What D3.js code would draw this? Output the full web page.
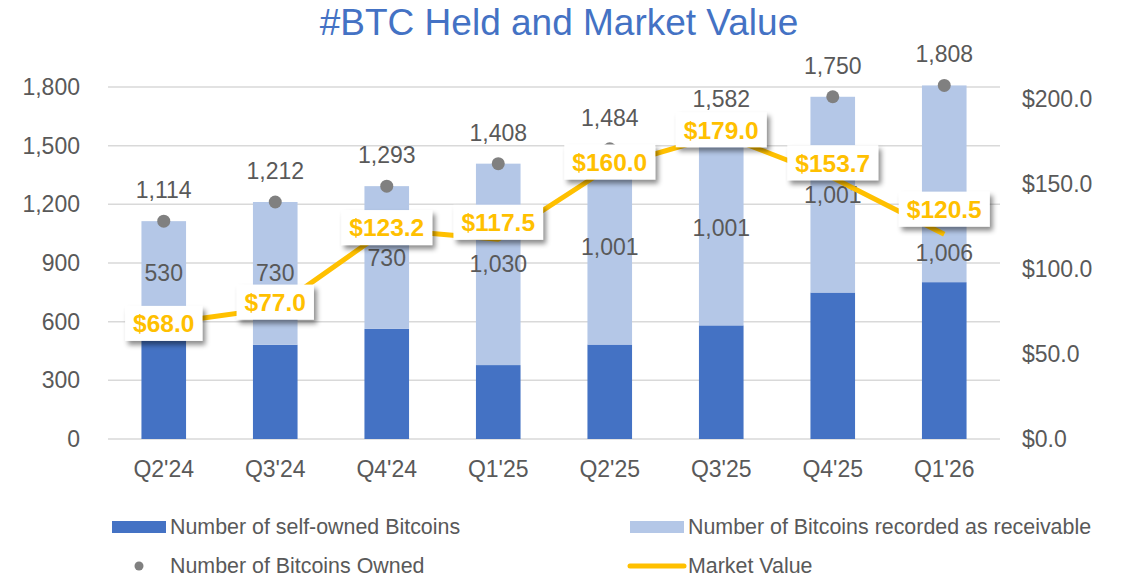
<!DOCTYPE html>
<html>
<head>
<meta charset="utf-8">
<script src="https://cdn.jsdelivr.net/npm/d3@7"></script>
<style>
  html, body { margin: 0; padding: 0; background: #fff; }
  svg { display: block; font-family: "Liberation Sans", Arial, sans-serif; }
</style>
</head>
<body>
<svg id="chart" width="1125" height="579"></svg>
<script>
// ---- data ----
const categories = ["Q2'24", "Q3'24", "Q4'24", "Q1'25", "Q2'25", "Q3'25", "Q4'25", "Q1'26"];
const selfOwned = [584, 482, 563, 378, 483, 581, 749, 802];
const receivable = [530, 730, 730, 1030, 1001, 1001, 1001, 1006];
const totalOwned = [1114, 1212, 1293, 1408, 1484, 1582, 1750, 1808];
const marketValue = [68.0, 77.0, 123.2, 117.5, 160.0, 179.0, 153.7, 120.5];
const leftTicks = [0, 300, 600, 900, 1200, 1500, 1800];
const rightTicks = [0, 50, 100, 150, 200];
// label placement tweaks (vertical shifts, px)
const mvLabelShift = [0, -6, -2, -17, -5, -5, -15, -25];
const recvLabelShift = [0, 0, 0, 0, 0, 0, 0, 69];

// ---- layout ----
const svg = d3.select("#chart");
const plot = { left: 108, right: 1000, top: 87, bottom: 439 };
const grey = "#595959";
const FONT = "Liberation Sans, Arial, sans-serif";

const x = d3.scaleBand().domain(categories).range([plot.left, plot.right]).paddingInner(0.6).paddingOuter(0.3);
const yL = d3.scaleLinear().domain([0, 1800]).range([plot.bottom, plot.top]);
const yR = d3.scaleLinear().domain([0, 200]).range([plot.bottom, plot.bottom - 340]);

const defs = svg.append("defs");
const f = defs.append("filter").attr("id", "shadow").attr("x", "-20%").attr("y", "-30%").attr("width", "150%").attr("height", "180%");
f.append("feDropShadow").attr("dx", 3).attr("dy", 4).attr("stdDeviation", 2.5).attr("flood-color", "#000").attr("flood-opacity", 0.45);

// title
svg.append("text").attr("x", 559).attr("y", 35).attr("text-anchor", "middle")
  .attr("font-size", 37).attr("fill", "#4472C4").text("#BTC Held and Market Value");

// gridlines
svg.append("g").selectAll("line").data(leftTicks).join("line")
  .attr("x1", plot.left).attr("x2", plot.right)
  .attr("y1", d => yL(d)).attr("y2", d => yL(d))
  .attr("stroke", "#D9D9D9").attr("stroke-width", 1.5);

// left axis
const axL = svg.append("g").attr("transform", `translate(${plot.left - 25},0)`)
  .call(d3.axisLeft(yL).tickValues(leftTicks).tickFormat(d3.format(",")).tickSize(0));
axL.select(".domain").remove();
axL.selectAll("text").attr("font-size", 23).attr("fill", grey).attr("font-family", FONT);

// right axis
const axR = svg.append("g").attr("transform", `translate(${plot.right + 19},0)`)
  .call(d3.axisRight(yR).tickValues(rightTicks).tickFormat(d => "$" + d3.format(".1f")(d)).tickSize(0));
axR.select(".domain").remove();
axR.selectAll("text").attr("font-size", 23).attr("fill", grey).attr("font-family", FONT);

// x axis
const axX = svg.append("g").attr("transform", `translate(0,${plot.bottom + 19})`)
  .call(d3.axisBottom(x).tickSize(0));
axX.select(".domain").remove();
axX.selectAll("text").attr("font-size", 23).attr("fill", grey).attr("font-family", FONT);

// bars
const rows = categories.map((c, i) => ({ c, s: selfOwned[i], r: receivable[i], t: totalOwned[i], mv: marketValue[i], shift: mvLabelShift[i], rshift: recvLabelShift[i] }));
const gBars = svg.append("g");
gBars.selectAll(".self").data(rows).join("rect")
  .attr("x", d => x(d.c)).attr("width", x.bandwidth())
  .attr("y", d => yL(d.s)).attr("height", d => yL(0) - yL(d.s))
  .attr("fill", "#4472C4");
gBars.selectAll(".recv").data(rows).join("rect")
  .attr("x", d => x(d.c)).attr("width", x.bandwidth())
  .attr("y", d => yL(d.s + d.r)).attr("height", d => yL(d.s) - yL(d.s + d.r))
  .attr("fill", "#B4C7E7");

// receivable labels
svg.append("g").selectAll("text").data(rows).join("text")
  .attr("x", d => x(d.c) + x.bandwidth() / 2)
  .attr("y", d => (yL(d.s) + yL(d.s + d.r)) / 2 + d.rshift)
  .attr("dy", "0.35em").attr("text-anchor", "middle")
  .attr("font-size", 23).attr("fill", grey)
  .text(d => d3.format(",")(d.r));

// total dots
svg.append("g").selectAll("circle").data(rows).join("circle")
  .attr("cx", d => x(d.c) + x.bandwidth() / 2).attr("cy", d => yL(d.t))
  .attr("r", 6.5).attr("fill", "#808080");
svg.append("g").selectAll("text").data(rows).join("text")
  .attr("x", d => x(d.c) + x.bandwidth() / 2).attr("y", d => yL(d.t) - 23)
  .attr("text-anchor", "middle").attr("font-size", 23).attr("fill", grey)
  .text(d => d3.format(",")(d.t));

// market value line
const line = d3.line().x(d => x(d.c) + x.bandwidth() / 2).y(d => yR(d.mv));
svg.append("path").datum(rows).attr("d", line)
  .attr("fill", "none").attr("stroke", "#FFC000").attr("stroke-width", 5).attr("stroke-linejoin", "round");

// market value callouts
const gLab = svg.append("g").selectAll("g").data(rows).join("g")
  .attr("transform", d => `translate(${x(d.c) + x.bandwidth() / 2},${yR(d.mv) + d.shift})`);
gLab.append("rect").attr("y", -17.5).attr("height", 35)
  .attr("fill", "#fff").attr("filter", "url(#shadow)");
gLab.append("text").attr("text-anchor", "middle").attr("dy", "0.36em")
  .attr("font-size", 24.5).attr("font-weight", "bold").attr("fill", "#FFC000")
  .text(d => "$" + d3.format(".1f")(d.mv));
gLab.each(function () {
  const g = d3.select(this);
  const w = g.select("text").node().getComputedTextLength() + 16;
  g.select("rect").attr("x", -w / 2).attr("width", w);
});

// legend
const leg = svg.append("g").attr("font-size", 21.4).attr("fill", grey);
const items = [
  { type: "rect", color: "#4472C4", label: "Number of self-owned Bitcoins", x: 112, y: 527 },
  { type: "rect", color: "#B4C7E7", label: "Number of Bitcoins recorded as receivable", x: 630, y: 527 },
  { type: "dot", color: "#808080", label: "Number of Bitcoins Owned", x: 112, y: 566 },
  { type: "line", color: "#FFC000", label: "Market Value", x: 630, y: 566 }
];
items.forEach(it => {
  const g = leg.append("g");
  if (it.type === "rect") g.append("rect").attr("x", it.x).attr("y", it.y - 6).attr("width", 54).attr("height", 12).attr("fill", it.color);
  if (it.type === "dot") g.append("circle").attr("cx", it.x + 27).attr("cy", it.y).attr("r", 4.5).attr("fill", it.color);
  if (it.type === "line") g.append("line").attr("x1", it.x).attr("x2", it.x + 54).attr("y1", it.y).attr("y2", it.y).attr("stroke", it.color).attr("stroke-width", 5).attr("stroke-linecap", "round");
  g.append("text").attr("x", it.x + 58).attr("y", it.y).attr("dy", "0.35em").text(it.label);
});
</script>
</body>
</html>
